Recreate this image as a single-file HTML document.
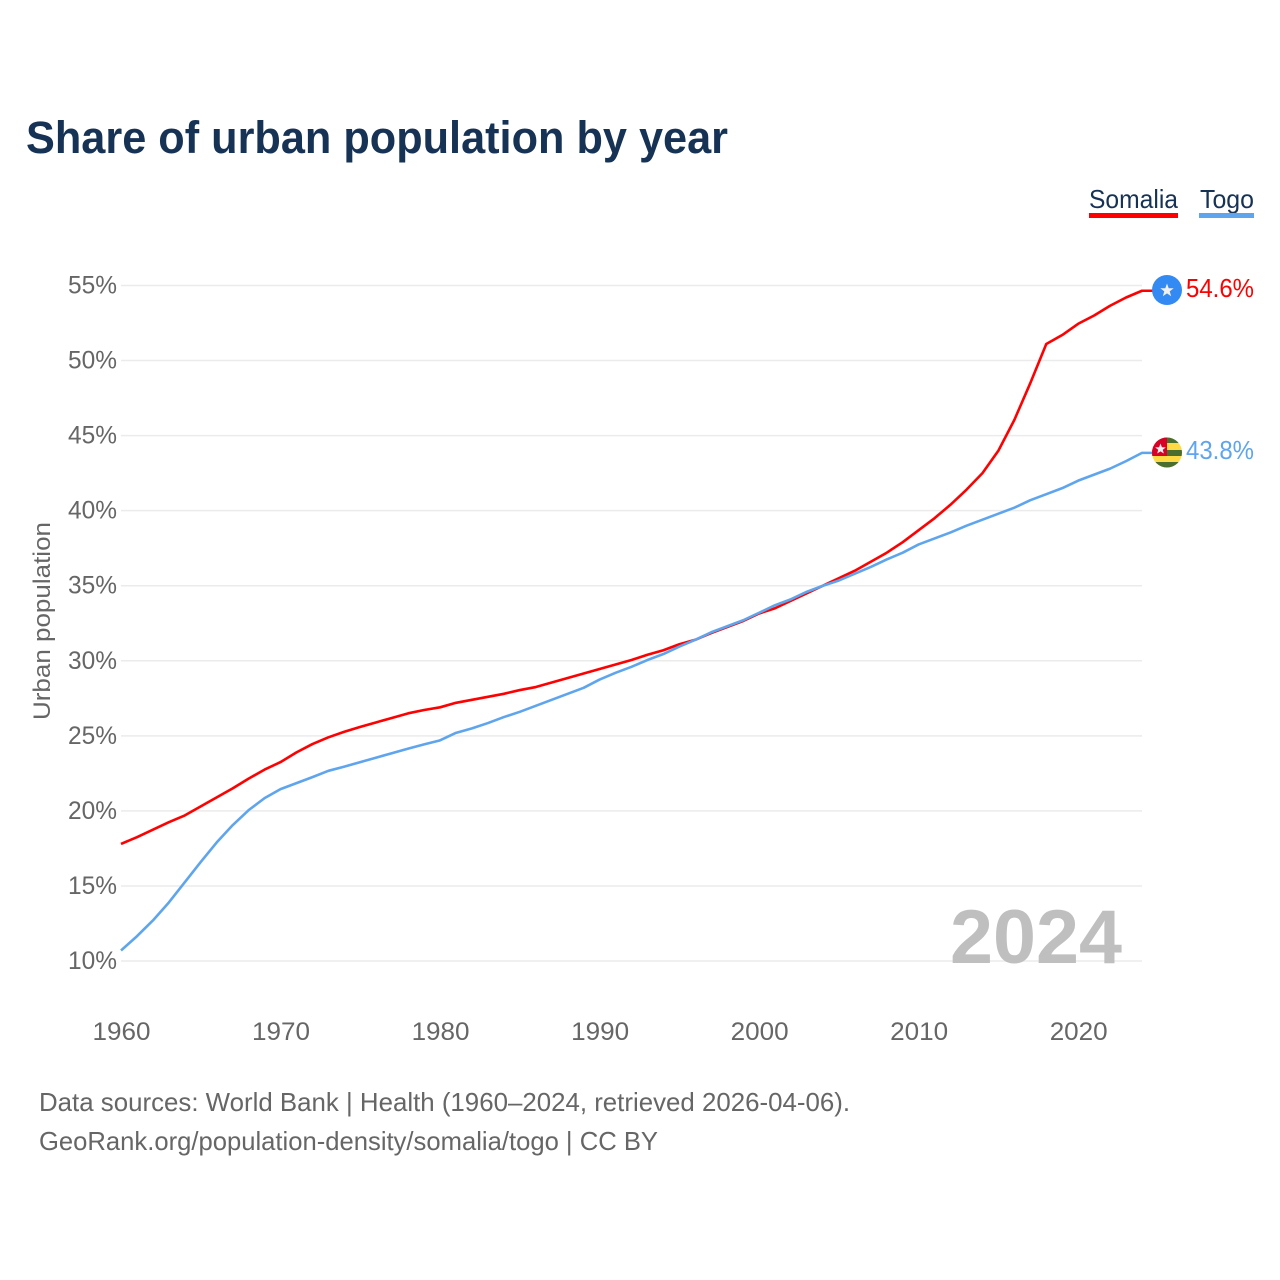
<!DOCTYPE html>
<html>
<head>
<meta charset="utf-8">
<title>Share of urban population by year</title>
<style>
html,body{margin:0;padding:0;background:#fff;width:1280px;height:1280px;overflow:hidden}
svg{display:block;font-family:"Liberation Sans",sans-serif}
</style>
</head>
<body>
<svg id="chart" width="1280" height="1280" viewBox="0 0 1280 1280" xmlns="http://www.w3.org/2000/svg">
  <text x="26" y="153" font-size="45" font-weight="700" fill="#163254" textLength="702" lengthAdjust="spacingAndGlyphs">Share of urban population by year</text>

  <g id="grid"></g>
  <g id="yticks"></g>
  <g id="xticks"></g>

  <text transform="translate(50,621) rotate(-90)" text-anchor="middle" font-size="24" fill="#666" textLength="198" lengthAdjust="spacingAndGlyphs">Urban population</text>

  <text x="1122" y="963" text-anchor="end" font-size="76" font-weight="700" fill="#bfbfbf" textLength="172" lengthAdjust="spacingAndGlyphs">2024</text>

  <g id="series"></g>

  <g>
    <text x="1089" y="208" font-size="26" fill="#163254" textLength="89" lengthAdjust="spacingAndGlyphs">Somalia</text>
    <rect x="1089" y="213" width="89" height="5" fill="#ff0000"></rect>
  </g>
  <g>
    <text x="1200" y="208" font-size="26" fill="#163254" textLength="54" lengthAdjust="spacingAndGlyphs">Togo</text>
    <rect x="1199" y="213" width="55" height="5" fill="#5ea5ee"></rect>
  </g>

  <g>
    <circle cx="1167" cy="290" r="15" fill="#338af3"></circle>
    <polygon fill="#f0f0f0" points="1167,283.5 1168.7,288.2 1173.7,288.3 1169.7,291.4 1171.2,296.2 1167,293.4 1162.8,296.2 1164.3,291.4 1160.3,288.3 1165.3,288.2"></polygon>
  </g>
  <g>
    <clipPath id="togo-clip"><circle cx="1167" cy="452.5" r="15"></circle></clipPath>
    <g clip-path="url(#togo-clip)">
      <rect x="1152" y="437" width="30" height="31" fill="#ffda44"></rect>
      <rect x="1152" y="437" width="30" height="6" fill="#496e2d"></rect>
      <rect x="1152" y="450" width="30" height="6" fill="#496e2d"></rect>
      <rect x="1152" y="462" width="30" height="6" fill="#496e2d"></rect>
      <rect x="1152" y="437" width="15" height="19" fill="#d80027"></rect>
    </g>
    <polygon fill="#f0f0f0" points="1160.5,443.5 1161.9,447.3 1165.8,447.4 1162.8,449.8 1163.8,453.5 1160.5,451.4 1157.2,453.5 1158.2,449.8 1155.2,447.4 1159.1,447.3"></polygon>
  </g>

  <text x="1186" y="297" font-size="26" fill="#ff0000" textLength="68" lengthAdjust="spacingAndGlyphs">54.6%</text>
  <text x="1186" y="459" font-size="26" fill="#5ea5ee" textLength="68" lengthAdjust="spacingAndGlyphs">43.8%</text>

  <text x="39" y="1111" font-size="26" fill="#666" textLength="811" lengthAdjust="spacingAndGlyphs">Data sources: World Bank | Health (1960–2024, retrieved 2026-04-06).</text>
  <text x="39" y="1150" font-size="26" fill="#666" textLength="619" lengthAdjust="spacingAndGlyphs">GeoRank.org/population-density/somalia/togo | CC BY</text>
</svg>
<script>
const years = [1960,1961,1962,1963,1964,1965,1966,1967,1968,1969,1970,1971,1972,1973,1974,1975,1976,1977,1978,1979,1980,1981,1982,1983,1984,1985,1986,1987,1988,1989,1990,1991,1992,1993,1994,1995,1996,1997,1998,1999,2000,2001,2002,2003,2004,2005,2006,2007,2008,2009,2010,2011,2012,2013,2014,2015,2016,2017,2018,2019,2020,2021,2022,2023,2024];
const somaliaValues = [17.8,18.25,18.75,19.25,19.7,20.3,20.9,21.5,22.15,22.75,23.25,23.9,24.45,24.9,25.27,25.6,25.9,26.2,26.5,26.72,26.9,27.2,27.4,27.6,27.8,28.05,28.25,28.55,28.85,29.15,29.45,29.75,30.05,30.4,30.7,31.1,31.4,31.85,32.25,32.65,33.15,33.5,34.0,34.5,35.0,35.5,36.0,36.6,37.2,37.9,38.7,39.5,40.4,41.4,42.5,44.0,46.05,48.5,51.1,51.7,52.45,53.0,53.65,54.2,54.65];
const togoValues = [10.7,11.65,12.7,13.9,15.25,16.6,17.9,19.05,20.05,20.85,21.45,21.85,22.25,22.67,22.95,23.25,23.55,23.85,24.15,24.43,24.7,25.2,25.5,25.85,26.25,26.6,27.0,27.4,27.8,28.2,28.75,29.2,29.6,30.05,30.45,30.95,31.4,31.9,32.3,32.7,33.2,33.7,34.1,34.6,35.0,35.35,35.8,36.25,36.75,37.2,37.75,38.15,38.55,39.0,39.4,39.8,40.2,40.7,41.1,41.5,42.0,42.4,42.8,43.3,43.85];
const yTickValues = [10,15,20,25,30,35,40,45,50,55];
const xTickValues = [1960,1970,1980,1990,2000,2010,2020];

const SVG_NS = 'http://www.w3.org/2000/svg';
const xScale = function (yr) { return 121 + (yr - 1960) * (1142 - 121) / (2024 - 1960); };
const yScale = function (v) { return 961 - (v - 10) * (961 - 285.5) / (55 - 10); };

const gridGroup = document.getElementById('grid');
const yGroup = document.getElementById('yticks');
const xGroup = document.getElementById('xticks');
const seriesGroup = document.getElementById('series');

yTickValues.forEach(function (v) {
  const line = document.createElementNS(SVG_NS, 'line');
  
  
  line.setAttribute('x1', xScale(1960));
  line.setAttribute('x2', xScale(2024));
  line.setAttribute('y1', yScale(v));
  line.setAttribute('y2', yScale(v));
  line.setAttribute('stroke', '#ebebeb');
  line.setAttribute('stroke-width', '1.5');
  gridGroup.appendChild(line);

  const label = document.createElementNS(SVG_NS, 'text');
  
  
  label.setAttribute('x', 117);
  label.setAttribute('y', yScale(v) + 8);
  label.setAttribute('text-anchor', 'end');
  label.setAttribute('font-size', '25');
  label.setAttribute('fill', '#666');
  label.setAttribute('textLength', '49');
  label.setAttribute('lengthAdjust', 'spacingAndGlyphs');
  label.textContent = v + '%';
  yGroup.appendChild(label);
});

xTickValues.forEach(function (yr) {
  const label = document.createElementNS(SVG_NS, 'text');
  
  
  label.setAttribute('x', xScale(yr) + 0.5);
  label.setAttribute('y', 1040);
  label.setAttribute('text-anchor', 'middle');
  label.setAttribute('font-size', '25');
  label.setAttribute('fill', '#666');
  label.setAttribute('textLength', '58');
  label.setAttribute('lengthAdjust', 'spacingAndGlyphs');
  label.textContent = yr;
  xGroup.appendChild(label);
});

function drawSeries(values, color, name, markerX) {
  const pts = values.map(function (v, i) { return xScale(years[i]) + ',' + yScale(v); });
  const last = values[values.length - 1];
  pts.push(markerX + ',' + yScale(last));
  const line = document.createElementNS(SVG_NS, 'polyline');
  
  
  line.setAttribute('points', pts.join(' '));
  line.setAttribute('fill', 'none');
  line.setAttribute('stroke', color);
  line.setAttribute('stroke-width', '2.6');
  line.setAttribute('stroke-linejoin', 'round');
  seriesGroup.appendChild(line);
}
drawSeries(somaliaValues, '#ff0000', 'somalia-line', 1155);
drawSeries(togoValues, '#5ea5ee', 'togo-line', 1155);
</script>
</body>
</html>
